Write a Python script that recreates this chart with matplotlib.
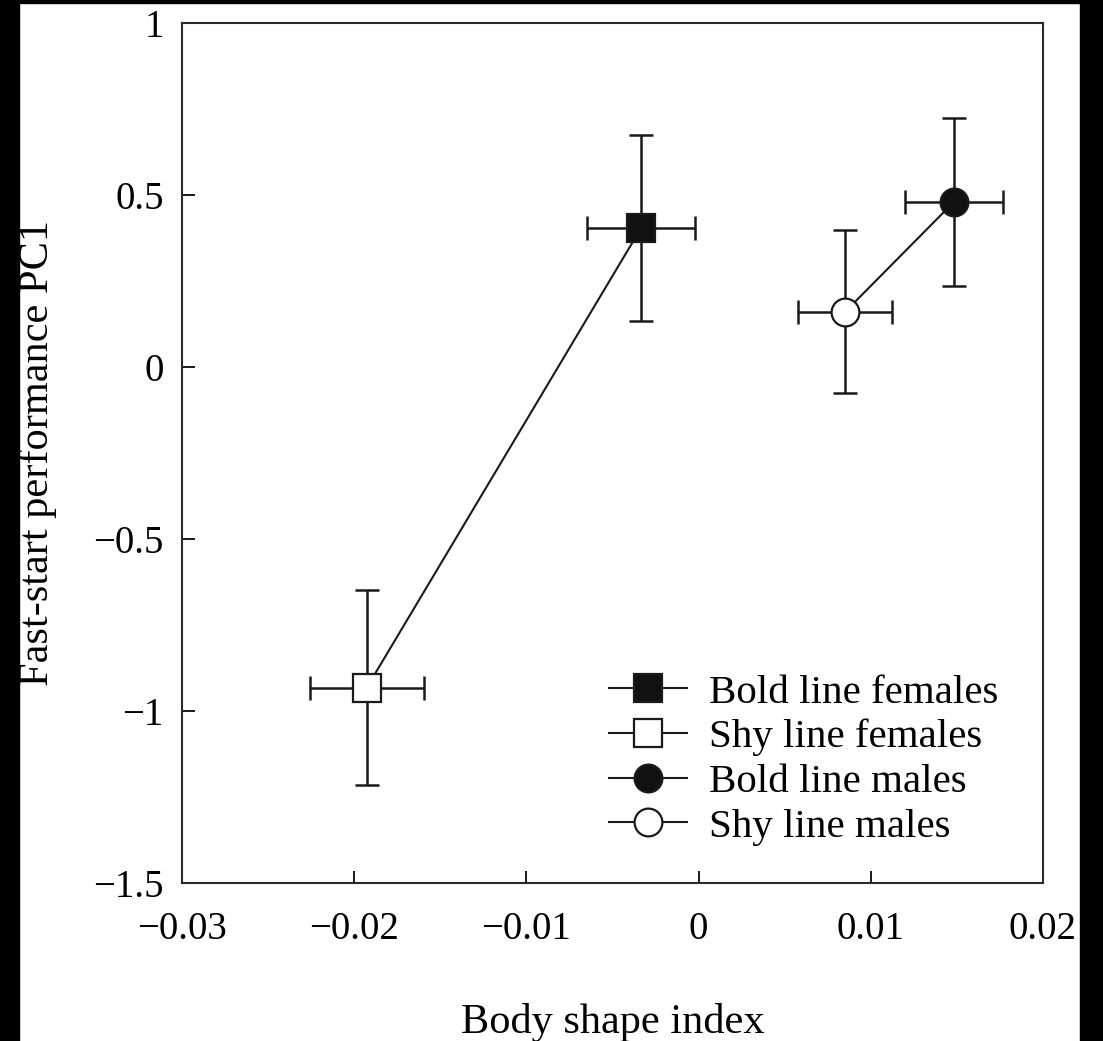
import matplotlib
matplotlib.use("Agg")
import matplotlib.pyplot as plt
from matplotlib.patches import Rectangle

# Data
groups = ["Bold line females", "Shy line females", "Bold line males", "Shy line males"]
body_shape = [-0.00334, -0.01927, 0.01483, 0.0085]
body_shape_se = [0.00314, 0.0033, 0.00283, 0.00273]
fast_start = [0.404, -0.932, 0.48, 0.16]
fast_start_se = [0.271, 0.283, 0.245, 0.237]
markers = ["s", "s", "o", "o"]
facecolors = ["#111111", "white", "#111111", "white"]

# pairs joined by a line (bold-shy within sex)
pairs = [(0, 1), (3, 2)]

xticks = [-0.03, -0.02, -0.01, 0, 0.01, 0.02]
xticklabels = ["\u22120.03", "\u22120.02", "\u22120.01", "0", "0.01", "0.02"]
yticks = [-1.5, -1, -0.5, 0, 0.5, 1]
yticklabels = ["\u22121.5", "\u22121", "\u22120.5", "0", "0.5", "1"]

plt.rcParams["font.family"] = ["Liberation Serif", "DejaVu Serif"]
plt.rcParams["font.size"] = 28

fig = plt.figure(figsize=(11.03, 10.41), dpi=100)
ax = fig.add_axes([0.165, 0.1518, 0.7806, 0.8261])

ink = "#1a1a1a"

for a, b in pairs:
    ax.plot([body_shape[a], body_shape[b]], [fast_start[a], fast_start[b]],
            color=ink, lw=1.5, zorder=1)

ax.errorbar(body_shape, fast_start, xerr=body_shape_se, yerr=fast_start_se,
            fmt="none", ecolor=ink, elinewidth=1.8, capsize=8.6, capthick=1.8,
            zorder=2)

for i, g in enumerate(groups):
    ax.plot(body_shape[i], fast_start[i], marker=markers[i], ms=20,
            mfc=facecolors[i], mec=ink, mew=1.6, ls="none", zorder=3)
    # legend handle: marker with line through it
    ax.plot([], [], marker=markers[i], ms=20, mfc=facecolors[i], mec=ink,
            mew=1.6, color=ink, lw=1.5, label=g)

ax.set_xlim(-0.03, 0.02)
ax.set_ylim(-1.5, 1)
ax.set_xticks(xticks)
ax.set_xticklabels(xticklabels)
ax.set_yticks(yticks)
ax.set_yticklabels(yticklabels)
ax.tick_params(direction="in", length=9, width=1.4, color=ink)
ax.tick_params(axis="x", pad=20)
ax.tick_params(axis="y", pad=13)
for s in ax.spines.values():
    s.set_linewidth(1.5)
    s.set_color("#2a2a2a")

ax.set_xlabel("Body shape index", fontsize=30.5)
ax.xaxis.set_label_coords(0.5, -0.14)
ax.set_ylabel("Fast-start performance PC1", fontsize=30.5)
ax.yaxis.set_label_coords(-0.145, 0.5)

ax.legend(loc="upper left", bbox_to_anchor=(0.496, 0.243), frameon=False,
          fontsize=29.5, borderpad=0, handlelength=1.9, handletextpad=0.55,
          labelspacing=0.17, borderaxespad=0)

# black scan borders of the original image
for rect in [(0, 0, 0.0172, 1), (0, 0.9971, 1, 0.0029), (0.9791, 0, 0.0209, 1)]:
    fig.add_artist(Rectangle(rect[:2], rect[2], rect[3], transform=fig.transFigure,
                             color="black", zorder=10))

fig.savefig("out.png", dpi=100, facecolor="white")
